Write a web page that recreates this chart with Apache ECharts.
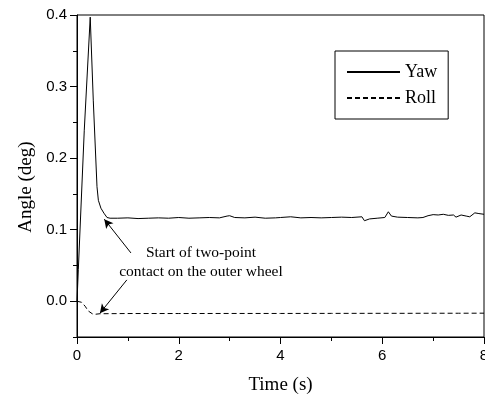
<!DOCTYPE html>
<html>
<head>
<meta charset="utf-8">
<script src="https://cdn.jsdelivr.net/npm/echarts@6/dist/echarts.min.js"></script>
<style>html,body{margin:0;padding:0;background:#fff}#c{width:485px;height:396px}</style>
</head>
<body>
<div id="c"></div>
<script>
// Time (s) values for Yaw and Roll
const yawTime = [0, 0.026, 0.143, 0.26, 0.32, 0.393, 0.42, 0.47, 0.53, 0.59, 0.65, 0.8, 1.0, 1.2, 1.4, 1.6, 1.8, 2.0, 2.2, 2.4, 2.6, 2.8, 2.95, 3.0, 3.1, 3.3, 3.5, 3.7, 3.9, 4.0, 4.2, 4.4, 4.6, 4.8, 5.0, 5.2, 5.4, 5.6, 5.65, 5.75, 5.9, 6.05, 6.12, 6.18, 6.3, 6.5, 6.7, 6.8, 6.9, 7.0, 7.1, 7.2, 7.3, 7.4, 7.45, 7.55, 7.65, 7.72, 7.82, 7.9, 8.0];
const yawValues = [0, 0.044, 0.239, 0.397, 0.281, 0.160, 0.141, 0.130, 0.123, 0.117, 0.116, 0.116, 0.1165, 0.1155, 0.116, 0.1165, 0.116, 0.117, 0.116, 0.1165, 0.117, 0.1165, 0.119, 0.1195, 0.117, 0.1165, 0.1175, 0.116, 0.1165, 0.117, 0.118, 0.1165, 0.117, 0.1165, 0.117, 0.1175, 0.117, 0.118, 0.1125, 0.115, 0.116, 0.117, 0.125, 0.119, 0.1175, 0.117, 0.1165, 0.117, 0.1195, 0.121, 0.1205, 0.1215, 0.12, 0.1205, 0.1175, 0.1205, 0.119, 0.118, 0.1235, 0.1225, 0.1215];
const rollTime = [0, 0.09, 0.16, 0.22, 0.3, 0.35, 0.45, 1.0, 2.0, 3.0, 4.0, 5.0, 6.0, 6.5, 7.0, 7.5, 8.0];
const rollValues = [0, -0.0015, -0.007, -0.0135, -0.0175, -0.0183, -0.0175, -0.0172, -0.0172, -0.0171, -0.0171, -0.017, -0.0169, -0.0169, -0.0168, -0.0168, -0.0167];
const xTicks = [0, 2, 4, 6, 8];
const yTicks = [0, 0.1, 0.2, 0.3, 0.4];
const yMinorTicks = [-0.05, 0.05, 0.15, 0.25, 0.35];
const annotationLines = ['Start of two-point', 'contact on the outer wheel'];
// arrows: [tailTime, tailValue, tipTime, tipValue]
const arrowYaw = [1.06, 0.0675, 0.536, 0.1147];
const arrowRoll = [0.98, 0.0298, 0.45, -0.0168];

const serif = '"Liberation Serif", "Times New Roman", serif';
const sans = '"Liberation Sans", Arial, sans-serif';

const chart = echarts.init(document.getElementById('c'), null, {renderer: 'canvas'});
const zip = (a, b) => a.map((v, i) => [v, b[i]]);

function arrowLine(a) {
  return [{coord: [a[0], a[1]], symbol: 'none'}, {coord: [a[2], a[3]], symbol: 'arrow'}];
}

chart.setOption({
  animation: false,
  backgroundColor: '#fff',
  grid: {left: 77, top: 15, right: 1, bottom: 59, outerBoundsMode: 'none', containLabel: false,
    show: true, borderColor: '#000', borderWidth: 1, backgroundColor: 'transparent'},
  legend: {
    left: 335, top: 51,
    orient: 'vertical',
    padding: [12, 11, 12, 11],
    itemGap: 8,
    itemWidth: 53, itemHeight: 14,
    borderColor: '#000', borderWidth: 1,
    itemStyle: {opacity: 0},
    textStyle: {fontFamily: serif, fontSize: 18, color: '#000', lineHeight: 16},
    data: [{name: 'Yaw'}, {name: 'Roll'}]
  },
  xAxis: {
    type: 'value', min: 0, max: 8, interval: 2,
    name: 'Time (s)', nameLocation: 'middle', nameGap: 39,
    nameTextStyle: {fontFamily: serif, fontSize: 19, color: '#000'},
    axisLine: {onZero: false, lineStyle: {color: '#000', width: 1}},
    axisTick: {show: true, length: 7, lineStyle: {color: '#000'}},
    minorTick: {show: true, splitNumber: 2, length: 4, lineStyle: {color: '#000'}},
    axisLabel: {fontFamily: sans, fontSize: 15, color: '#000', margin: 11,
      customValues: xTicks, formatter: v => String(v)},
    splitLine: {show: false}
  },
  yAxis: [{
    type: 'value', min: -0.05, max: 0.4,
    name: 'Angle (deg)', nameLocation: 'middle', nameGap: 41,
    nameTextStyle: {fontFamily: serif, fontSize: 19, color: '#000', padding: [0, 22, 0, 0]},
    axisLine: {show: true, onZero: false, lineStyle: {color: '#000', width: 1}},
    axisTick: {show: true, length: 7, customValues: yTicks, lineStyle: {color: '#000'}},
    axisLabel: {fontFamily: sans, fontSize: 15, color: '#000', margin: 10,
      customValues: yTicks, formatter: v => v.toFixed(1)},
    splitLine: {show: false}
  }, {
    type: 'value', min: -0.05, max: 0.4, position: 'left', offset: 0,
    axisLine: {show: false, onZero: false},
    axisTick: {show: true, length: 4, customValues: yMinorTicks, lineStyle: {color: '#000'}},
    axisLabel: {show: false},
    splitLine: {show: false}
  }],
  graphic: [{
    type: 'text', x: 201, y: 243,
    style: {
      text: annotationLines.join('\n'), fontFamily: serif, fontSize: 15.5, lineHeight: 19,
      fill: '#000', align: 'center', verticalAlign: 'top'
    }
  }],
  series: [{
    name: 'Yaw', type: 'line', showSymbol: false, symbol: 'none',
    data: zip(yawTime, yawValues),
    lineStyle: {color: '#000', width: 1},
    itemStyle: {color: '#000'},
    markLine: {
      silent: true, symbolSize: [7, 9],
      lineStyle: {color: '#000', width: 1, type: 'solid'},
      label: {show: false},
      data: [arrowLine(arrowYaw), arrowLine(arrowRoll)]
    }
  }, {
    name: 'Roll', type: 'line', showSymbol: false, symbol: 'none',
    data: zip(rollTime, rollValues),
    lineStyle: {color: '#000', width: 1, type: [5, 3]},
    itemStyle: {color: '#000'}
  }]
});
</script>
</body>
</html>
